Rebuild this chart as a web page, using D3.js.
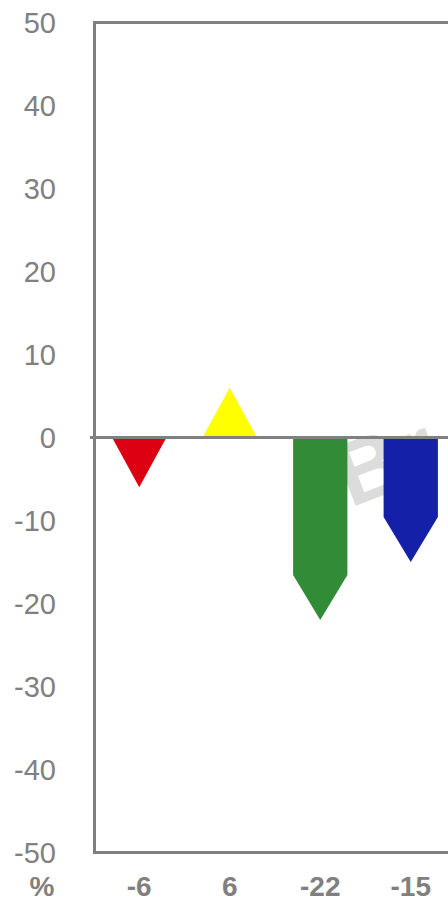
<!DOCTYPE html>
<html><head><meta charset="utf-8">
<script src="https://cdn.jsdelivr.net/npm/d3@7/dist/d3.min.js"></script>
<style>html,body{margin:0;padding:0;background:#fff;overflow:hidden}svg{display:block}</style>
</head><body>
<svg id="c" width="448" height="901"></svg>
<script>
const categories = ["A", "B", "C", "D"];
const values = [-6, 6, -22, -15];
const colors = ["#dc0012", "#ffff00", "#318b37", "#1520a8"];
const yTicks = [50, 40, 30, 20, 10, 0, -10, -20, -30, -40, -50];
const unitLabel = "%";
const watermark = "Br";

const svg = d3.select("#c");
const gray = "#808080";
const font = "Liberation Sans, Arial, sans-serif";
const y = d3.scaleLinear().domain([-50, 50]).range([852.5, 22.5]);
const x = d3.scaleBand().domain(categories).range([94, 456]).paddingInner(0.4).paddingOuter(0.2);

// watermark
const clip = svg.append("clipPath").attr("id", "vc").append("rect")
  .attr("x", 0).attr("y", 0).attr("width", 448).attr("height", 901);
svg.append("g").attr("clip-path", "url(#vc)").append("text")
  .attr("transform", "translate(350,508) rotate(-21)")
  .attr("font-family", font).attr("font-weight", "bold")
  .attr("font-size", 90).attr("fill", "#dcdcdc").text(watermark);

// frame
svg.append("path").attr("d", `M456,${y(50)}H${94.5}V${y(-50)}H456`)
  .attr("fill", "none").attr("stroke", gray).attr("stroke-width", 3);

// bars (arrows)
const HEAD = 45;
svg.append("g").selectAll("path").data(values).join("path")
  .attr("fill", (d, i) => colors[i])
  .attr("d", (d, i) => {
    const x0 = x(categories[i]), w = x.bandwidth(), x1 = x0 + w, xm = x0 + w / 2;
    const y0 = y(0), yv = y(d);
    const len = Math.abs(yv - y0);
    const dir = d < 0 ? 1 : -1;
    const h = len <= 55 ? len : HEAD;
    const yb = yv - dir * h;
    return `M${x0},${y0}L${x0},${yb}L${xm},${yv}L${x1},${yb}L${x1},${y0}Z`;
  });

// zero line
svg.append("line").attr("x1", 90).attr("x2", 456).attr("y1", y(0)).attr("y2", y(0))
  .attr("stroke", gray).attr("stroke-width", 3);

// y axis labels
const yAxis = d3.axisLeft(y).tickValues(yTicks).tickSize(0).tickPadding(0).tickFormat(d => String(d));
const gy = svg.append("g").attr("transform", "translate(56,0)").call(yAxis);
gy.select(".domain").remove();
gy.selectAll("text").attr("font-family", font)
  .attr("font-size", 29).attr("fill", gray).attr("dy", "0.36em");

// bottom value labels
const xAxis = d3.axisBottom(x).tickSize(0).tickPadding(0).tickFormat((d, i) => String(values[i]));
const gx = svg.append("g").attr("transform", "translate(0,0)").call(xAxis);
gx.select(".domain").remove();
gx.selectAll(".tick").attr("transform", d => `translate(${x(d) + x.bandwidth() / 2},896)`);
gx.selectAll("text").attr("font-family", font).attr("y", 0)
  .attr("font-size", 28).attr("font-weight", "bold").attr("fill", gray).attr("dy", 0);

svg.append("text").attr("x", 42).attr("y", 896).attr("text-anchor", "middle")
  .attr("font-family", font).attr("font-size", 28)
  .attr("font-weight", "bold").attr("fill", gray).text(unitLabel);
</script>
</body></html>
